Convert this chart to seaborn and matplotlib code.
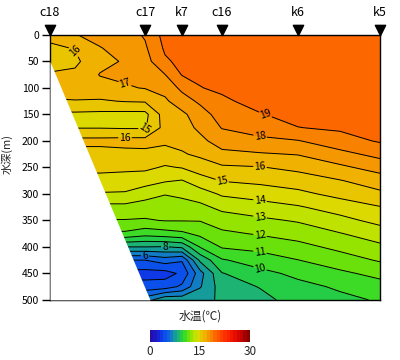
import numpy as np
import matplotlib
matplotlib.use("Agg")
import matplotlib.pyplot as plt
from matplotlib.colors import ListedColormap, BoundaryNorm
from matplotlib.transforms import blended_transform_factory
import seaborn as sns

# stations along the section (distance from c18, same units as the grid)
station_names = ["c18", "c17", "k7", "c16", "k6", "k5"]
station_dist = [0, 95, 132, 172, 248, 330]

# sea bottom (slope on the c18 side)
seabed_dist = [0, 100]
seabed_depth = [50, 500]

# section grid
grid_dist = [0, 25, 50, 75, 95, 115, 132, 150, 172, 210, 248, 290, 330]
grid_depth = [0, 25, 50, 75, 100, 125, 150, 175, 200, 225, 250,
              275, 300, 325, 350, 375, 400, 425, 450, 475, 500]

# water temperature (C), one list per grid column, surface -> 500 m
temp_cols = [
    [16.3, 15.8, 15.6, 16.1, 16.4, 15.9, 14.8, 14.95, 16.3, 15.6, 15.15, 14.8, 13.9, 12.7, 11.95, 10.8, 8.0, 5.0, 3.6, 4.4, 6.5],
    [16.95, 16.05, 15.8, 16.2, 16.5, 15.95, 14.8, 14.95, 16.3, 15.6, 15.15, 14.8, 13.9, 12.7, 11.95, 10.8, 8.0, 5.0, 3.6, 4.4, 6.5],
    [17.35, 16.95, 16.7, 17.05, 16.6, 15.9, 14.75, 14.95, 16.3, 15.6, 15.15, 14.8, 13.9, 12.7, 11.95, 10.8, 8.0, 5.0, 3.6, 4.4, 6.5],
    [17.6, 17.4, 17.1, 17.2, 16.9, 16.05, 14.7, 14.9, 16.35, 15.7, 15.25, 14.5, 13.9, 12.7, 11.95, 10.8, 8.0, 5.0, 3.6, 4.4, 6.5],
    [18.1, 17.85, 17.6, 17.3, 17.05, 16.1, 14.7, 14.9, 16.35, 15.75, 15.2, 14.45, 13.4, 12.55, 11.9, 10.4, 8.0, 5.0, 3.6, 4.4, 6.5],
    [19.35, 19.15, 18.85, 17.98, 17.3, 16.85, 16.5, 16.35, 16.2, 15.6, 14.9, 14.1, 13.05, 12.45, 12.05, 10.6, 7.95, 5.5, 3.6, 4.5, 7.8],
    [19.5, 19.4, 19.25, 19.05, 18.25, 17.5, 16.8, 16.6, 16.3, 15.9, 15.05, 13.95, 13.2, 12.6, 12.05, 10.8, 8.2, 5.1, 4.2, 5.2, 7.7],
    [19.6, 19.5, 19.35, 19.15, 18.97, 18.2, 17.5, 17.2, 16.75, 16.2, 15.45, 14.6, 13.5, 12.75, 12.05, 11.25, 10.05, 8.2, 6.6, 6.9, 7.8],
    [19.7, 19.6, 19.5, 19.35, 19.15, 18.85, 18.5, 18.05, 17.45, 16.75, 15.85, 15.05, 14.15, 13.25, 12.5, 11.8, 11.1, 9.9, 8.95, 8.5, 8.1],
    [19.7, 19.7, 19.6, 19.5, 19.4, 19.3, 18.95, 18.4, 17.8, 16.9, 15.95, 15.25, 14.4, 13.6, 12.8, 12.1, 11.3, 10.5, 9.7, 9.05, 8.7],
    [19.7, 19.7, 19.7, 19.6, 19.5, 19.4, 19.3, 18.98, 17.95, 17.05, 16.25, 15.5, 14.75, 13.9, 13.1, 12.4, 11.7, 10.98, 10.25, 9.7, 9.4],
    [19.7, 19.7, 19.7, 19.6, 19.55, 19.45, 19.35, 19.15, 18.6, 17.7, 16.8, 15.95, 15.3, 14.45, 13.7, 12.95, 12.25, 11.55, 10.8, 10.15, 9.75],
    [19.7, 19.7, 19.7, 19.6, 19.6, 19.5, 19.4, 19.3, 19.1, 18.3, 17.4, 16.5, 15.8, 14.95, 14.3, 13.5, 12.8, 12.1, 11.3, 10.6, 10.1],
]

cbar_ticks = [0, 15, 30]

sns.set_theme(style="white")
plt.rcParams["font.family"] = ["Noto Sans CJK JP", "DejaVu Sans"]

# one colour per 1 C band, 0..30
anchors = ["#2a0a9c", "#1a1ad0", "#0a46f0", "#1070d8", "#18a888", "#28d830",
           "#80e400", "#d4e200", "#f0bc00", "#f68c00", "#ff5c00", "#ff3800",
           "#f81c00", "#e00800", "#b80000", "#780000"]
smooth = sns.blend_palette(anchors, as_cmap=True)
cmap = ListedColormap(smooth(np.linspace(0.5 / 30, 29.5 / 30, 30)))
fill_levels = np.arange(0, 31, 1)
norm = BoundaryNorm(fill_levels, cmap.N)

X, Y = np.meshgrid(grid_dist, grid_depth)
T = np.array(temp_cols).T

fig = plt.figure(figsize=(4, 3.6), dpi=100)
ax = fig.add_axes([0.125, 0.167, 0.825, 0.736])

ax.contourf(X, Y, T, levels=fill_levels, cmap=cmap, norm=norm, zorder=1)
cs = ax.contour(X, Y, T, levels=np.arange(1, 30, 1), colors="black",
                linewidths=0.7, zorder=2)
labels = ax.clabel(cs, fmt="%d", fontsize=7.5, inline=True, inline_spacing=1)
ax.fill_between(seabed_dist, seabed_depth, max(grid_depth), color="white",
                linewidth=0, zorder=3)
for t in labels:
    t.set_zorder(2.5)

ax.set_xlim(min(grid_dist), max(grid_dist))
ax.set_ylim(max(grid_depth), 0)
ax.set_yticks(np.arange(0, 501, 50))
ax.set_xticks([])
ax.tick_params(axis="y", direction="out", length=6, width=1, labelsize=7.5,
               left=True, pad=2, colors="black")
for sp in ax.spines.values():
    sp.set_color("black")
    sp.set_linewidth(1)
ax.set_ylabel("水深(m)", fontsize=8)
ax.yaxis.set_label_coords(-0.112, 0.55)

# station markers above the section
trans = blended_transform_factory(ax.transData, ax.transAxes)
ax.scatter(station_dist, [1.02] * len(station_dist), marker="v", s=55,
           color="black", transform=trans, clip_on=False, zorder=5)
for name, d in zip(station_names, station_dist):
    ax.text(d, 1.085, name, transform=trans, ha="center", va="center",
            fontsize=9, color="black")

# colour bar
cax = fig.add_axes([0.375, 0.05, 0.25, 0.033])
cb = fig.colorbar(plt.cm.ScalarMappable(norm=norm, cmap=cmap), cax=cax,
                  orientation="horizontal", ticks=cbar_ticks)
cb.outline.set_visible(False)
cb.minorticks_off()
cb.ax.tick_params(which="both", length=0, labelsize=8.5, pad=2)
fig.text(0.5, 0.122, "水温(℃)", ha="center", va="center", fontsize=8.5)

fig.savefig("out.png", dpi=100)
